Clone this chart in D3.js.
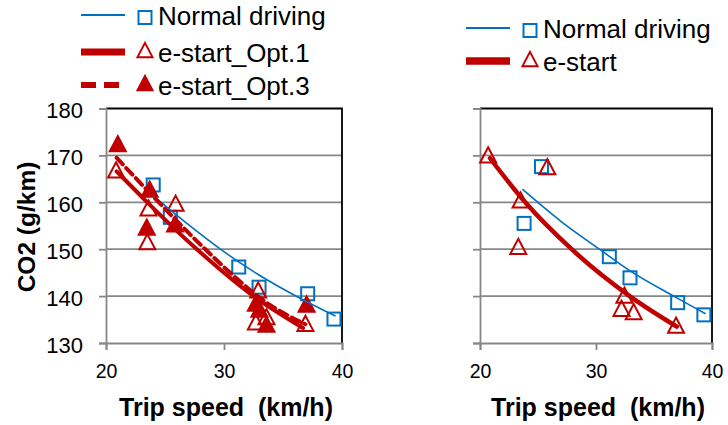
<!DOCTYPE html>
<html><head><meta charset="utf-8">
<script src="https://cdn.jsdelivr.net/npm/d3@7"></script>
<style>body{margin:0;background:#fff}svg{display:block}</style>
</head><body>
<svg id="c" width="728" height="425"></svg>
<script>
// ---------- data ----------
const xTicks = [20, 30, 40];
const yTicks = [130, 140, 150, 160, 170, 180];
const xTitle = "Trip speed  (km/h)";
const yTitle = "CO2 (g/km)";

// Left panel
const leftLegend = ["Normal driving", "e-start_Opt.1", "e-start_Opt.3"];
const leftNormalSpeed = [24.0, 25.45, 31.25, 32.97, 37.09, 39.32];
const leftNormalCO2   = [163.7, 156.8, 146.2, 141.9, 140.5, 135.1];
const leftOpt1Speed = [20.85, 23.6, 23.5, 25.9, 32.9, 32.7, 33.6, 36.9];
const leftOpt1CO2   = [166.9, 158.8, 151.6, 159.8, 141.3, 134.5, 135.6, 134.2];
const leftOpt3Speed = [21.0, 23.7, 23.45, 25.85, 32.7, 33.0, 33.6, 37.0];
const leftOpt3CO2   = [172.5, 162.8, 154.7, 155.4, 138.5, 137.2, 134.0, 138.3];
const leftNormalTrendSpeed = [23.9, 26.8, 29.7, 32.9, 36.4, 39.4];
const leftNormalTrendCO2   = [161.6, 155.6, 150.0, 144.6, 139.6, 135.8];
const leftOpt1TrendSpeed = [20.9, 23.5, 27.7, 32.5, 36.7];
const leftOpt1TrendCO2   = [166.6, 160.0, 150.0, 140.0, 133.2];
const leftOpt3TrendSpeed = [20.9, 23.9, 28.2, 30.6, 33.6, 36.9];
const leftOpt3TrendCO2   = [169.5, 161.5, 150.5, 144.8, 138.6, 134.0];

// Right panel
const rightLegend = ["Normal driving", "e-start"];
const rightNormalSpeed = [25.3, 23.8, 31.15, 32.93, 37.04, 39.3];
const rightNormalCO2   = [167.6, 155.5, 148.4, 143.9, 138.6, 136.0];
const rightEstartSpeed = [20.7, 25.8, 23.5, 23.3, 32.45, 32.2, 33.25, 36.9];
const rightEstartCO2   = [170.1, 167.6, 160.5, 150.6, 140.2, 137.4, 136.7, 133.8];
const rightNormalTrendSpeed = [23.7, 27.0, 30.3, 32.87, 36.7, 39.4];
const rightNormalTrendCO2   = [162.7, 155.9, 150.0, 145.5, 140.0, 136.3];
const rightEstartTrendSpeed = [20.86, 23.9, 27.9, 32.9, 36.96];
const rightEstartTrendCO2   = [169.4, 160.0, 150.0, 140.0, 133.5];

// ---------- styles ----------
const BLUE = "#0070C0", RED = "#C00000", GRID = "#878787";
const FONT = "'Liberation Sans', Arial, sans-serif";

const svg = d3.select("#c");
const zip = (a, b) => a.map((v, i) => [v, b[i]]);

function triPath(s) { // s: half width
  const h = s * 0.95;
  return `M0,${-h}L${s},${h}L${-s},${h}Z`;
}

function panel(opts) {
  const x = d3.scaleLinear().domain([20, 40]).range(opts.xr);
  const y = d3.scaleLinear().domain([130, 180]).range([343, 108.5]);
  const g = svg.append("g");

  // gridlines
  g.selectAll(".grid").data(yTicks.filter(t => t > 130 && t < 180)).join("line")
    .attr("x1", x(20)).attr("x2", x(40)).attr("y1", d => y(d)).attr("y2", d => y(d))
    .attr("stroke", GRID).attr("stroke-width", 1.8);

  // frame top & right
  g.append("path")
    .attr("d", `M${x(20)},${y(180)}H${x(40)}V${y(130)}`)
    .attr("fill", "none").attr("stroke", "#000").attr("stroke-width", 1.8);

  // y axis
  const ya = g.append("g").attr("transform", `translate(${x(20)},0)`)
    .call(d3.axisLeft(y).tickValues(yTicks).tickSize(7).tickPadding(16)
      .tickFormat(opts.yLabels ? d3.format("d") : () => ""));
  ya.select(".domain").attr("stroke", GRID).attr("stroke-width", 1.8);
  ya.selectAll(".tick line").attr("stroke", GRID).attr("stroke-width", 1.8);
  ya.selectAll(".tick text").attr("font-family", FONT).attr("font-size", 22).attr("fill", "#000")
    .attr("dy", "0.42em");

  // x axis
  const xa = g.append("g").attr("transform", `translate(0,${y(130)})`)
    .call(d3.axisBottom(x).tickValues(xTicks).tickSize(7).tickPadding(14).tickFormat(d3.format("d")));
  xa.select(".domain").attr("stroke", GRID).attr("stroke-width", 1.8);
  xa.selectAll(".tick line").attr("stroke", GRID).attr("stroke-width", 1.8);
  xa.selectAll(".tick text").attr("font-family", FONT).attr("font-size", 19.5).attr("fill", "#000");

  // x title
  g.append("text").attr("x", (x(20) + x(40)) / 2 + 2).attr("y", 416)
    .attr("text-anchor", "middle").attr("font-family", FONT).attr("font-weight", "bold")
    .attr("font-size", 25).attr("xml:space", "preserve").style("white-space", "pre").text(xTitle);

  const line = d3.line().x(d => x(d[0])).y(d => y(d[1])).curve(d3.curveMonotoneX);

  // markers
  g.selectAll(null).data(zip(opts.sqX, opts.sqY)).join("rect")
    .attr("x", d => x(d[0]) - 6.5).attr("y", d => y(d[1]) - 6.5)
    .attr("width", 13).attr("height", 13)
    .attr("fill", "none").attr("stroke", BLUE).attr("stroke-width", 2);
  opts.tris.forEach(t => {
    g.selectAll(null).data(zip(t.x, t.y)).join("path")
      .attr("transform", d => `translate(${x(d[0])},${y(d[1])})`)
      .attr("d", triPath(8))
      .attr("fill", t.filled ? RED : "none").attr("stroke", RED).attr("stroke-width", 2)
      .attr("stroke-linejoin", "miter");
  });

  // trend lines
  opts.trends.forEach(t => {
    g.append("path").datum(zip(t.x, t.y)).attr("d", line)
      .attr("fill", "none").attr("stroke", t.color).attr("stroke-width", t.w)
      .attr("stroke-dasharray", t.dash || null).attr("stroke-linecap", "round");
  });

  // legend
  opts.legend.forEach((it, i) => {
    const cy = opts.legY[i];
    g.append("line").attr("x1", opts.legX).attr("x2", opts.legX + 44)
      .attr("y1", cy).attr("y2", cy).attr("stroke", it.color).attr("stroke-width", it.w)
      .attr("stroke-dasharray", it.dash || null);
    const mx = opts.legX + 64;
    if (it.marker === "sq") {
      g.append("rect").attr("x", mx - 6.5).attr("y", cy - 4).attr("width", 13).attr("height", 13)
        .attr("fill", "none").attr("stroke", BLUE).attr("stroke-width", 2);
    } else {
      g.append("path").attr("transform", `translate(${mx},${cy - 2})`).attr("d", triPath(7.5))
        .attr("fill", it.marker === "triF" ? RED : "none").attr("stroke", RED).attr("stroke-width", 2);
    }
    g.append("text").attr("x", opts.legX + 77).attr("y", cy + 10)
      .attr("font-family", FONT).attr("font-size", 26).attr("fill", "#000").text(it.label);
  });
}

panel({
  xr: [106, 342], yLabels: true,
  sqX: leftNormalSpeed, sqY: leftNormalCO2,
  tris: [
    {x: leftOpt1Speed, y: leftOpt1CO2, filled: false},
    {x: leftOpt3Speed, y: leftOpt3CO2, filled: true}
  ],
  trends: [
    {x: leftNormalTrendSpeed, y: leftNormalTrendCO2, color: BLUE, w: 1.6},
    {x: leftOpt1TrendSpeed, y: leftOpt1TrendCO2, color: RED, w: 4},
    {x: leftOpt3TrendSpeed, y: leftOpt3TrendCO2, color: RED, w: 4, dash: "9,5"}
  ],
  legX: 81, legY: [15, 52, 85],
  legend: [
    {label: leftLegend[0], color: BLUE, w: 2, marker: "sq"},
    {label: leftLegend[1], color: RED, w: 7, marker: "tri"},
    {label: leftLegend[2], color: RED, w: 6, dash: "15,8", marker: "triF"}
  ]
});

panel({
  xr: [480, 712], yLabels: false,
  sqX: rightNormalSpeed, sqY: rightNormalCO2,
  tris: [{x: rightEstartSpeed, y: rightEstartCO2, filled: false}],
  trends: [
    {x: rightNormalTrendSpeed, y: rightNormalTrendCO2, color: BLUE, w: 1.6},
    {x: rightEstartTrendSpeed, y: rightEstartTrendCO2, color: RED, w: 4.5}
  ],
  legX: 466, legY: [28, 61],
  legend: [
    {label: rightLegend[0], color: BLUE, w: 2, marker: "sq"},
    {label: rightLegend[1], color: RED, w: 7.5, marker: "tri"}
  ]
});

// y title
svg.append("text").attr("transform", "translate(35,227) rotate(-90)")
  .attr("text-anchor", "middle").attr("font-family", FONT).attr("font-weight", "bold")
  .attr("font-size", 24.5).attr("fill", "#000").text(yTitle);
</script>
</body></html>
